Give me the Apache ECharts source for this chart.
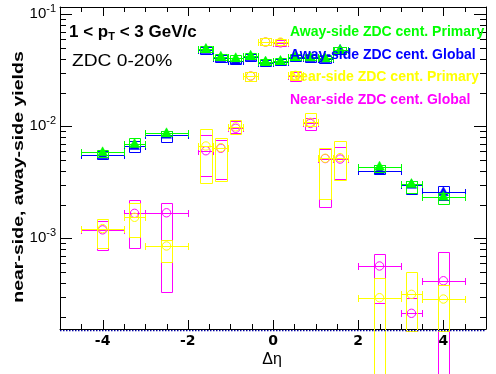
<!DOCTYPE html>
<html><head><meta charset="utf-8">
<script src="https://cdn.jsdelivr.net/npm/echarts@6/dist/echarts.min.js"></script>
<style>html,body{margin:0;padding:0;background:#fff}#c{width:496px;height:374px}</style>
</head><body><div id="c"></div>
<script>
// ---- data ----
const etaCenters    = [-4, -3.25, -2.5, -1.575, -1.225, -0.875, -0.525, -0.175, 0.175, 0.525, 0.875, 1.225, 1.575, 2.5, 3.25, 4];
const etaHalfWidths = [0.5, 0.25, 0.5, 0.175, 0.175, 0.175, 0.175, 0.175, 0.175, 0.175, 0.175, 0.175, 0.175, 0.5, 0.25, 0.5];

const awayPrimary   = [5.86e-3, 6.95e-3, 8.66e-3, 0.049, 0.0418, 0.0405, 0.0427, 0.0378, 0.0383, 0.0418, 0.0413, 0.0405, 0.048, 4.36e-3, 3.05e-3, 2.35e-3];
const awayPrimaryLo = [5.29e-3, 6.71e-3, 8.19e-3, 0.046, 0.0393, 0.0381, 0.0401, 0.0355, 0.036, 0.0393, 0.0388, 0.0381, 0.0451, 3.93e-3, 2.55e-3, 2.01e-3];
const awayPrimaryHi = [6.14e-3, 7.81e-3, 9.08e-3, 0.052, 0.0443, 0.0429, 0.0452, 0.0401, 0.0406, 0.0443, 0.0438, 0.0429, 0.0509, 4.51e-3, 3.25e-3, 2.52e-3];

const awayGlobal    = [5.51e-3, 6.67e-3, 8.41e-3, 0.048, 0.0405, 0.0386, 0.0413, 0.037, 0.0375, 0.0409, 0.0405, 0.0396, 0.048, 4.02e-3, 3.0e-3, 2.58e-3];
const awayGlobalLo  = [5.07e-3, 5.93e-3, 7.2e-3, 0.0446, 0.0377, 0.0359, 0.0384, 0.0344, 0.0349, 0.038, 0.0377, 0.0368, 0.0446, 3.73e-3, 2.47e-3, 2.2e-3];
const awayGlobalHi  = [6.05e-3, 7.44e-3, 9.14e-3, 0.0509, 0.0429, 0.0409, 0.0438, 0.0392, 0.0398, 0.0434, 0.0429, 0.042, 0.0509, 4.51e-3, 3.25e-3, 2.93e-3];

const nearPrimary   = [1.22e-3, 1.54e-3, 8.54e-4, 6.67e-3, 6.44e-3, 9.9e-3, 0.0281, 0.0565, 0.0565, 0.0285, 1.085e-2, 5.18e-3, 5.25e-3, 2.95e-4, 3.16e-4, 2.87e-4];
const nearPrimaryLo = [8.14e-4, 1.03e-3, 6.18e-4, 3.14e-3, 3.27e-3, 8.48e-3, 0.0253, 0.0532, 0.053, 0.026, 1.0e-2, 2.23e-3, 3.32e-3, 5e-5, 1.5e-4, 1.5e-4];
const nearPrimaryHi = [1.49e-3, 2.05e-3, 9.66e-4, 9.4e-3, 7.81e-3, 1.14e-2, 0.0307, 0.0612, 0.060, 0.031, 1.31e-2, 6.36e-3, 7.39e-3, 4.4e-4, 4.97e-4, 3.83e-4];

const nearGlobal    = [1.19e-3, 1.67e-3, 1.69e-3, 6.05e-3, 6.36e-3, 9.6e-3, 0.0281, 0.0565, 0.0555, 0.028, 1.06e-2, 5.15e-3, 5.1e-3, 5.66e-4, 2.14e-4, 4.18e-4];
const nearGlobalLo  = [7.81e-4, 8.14e-4, 3.3e-4, 3.6e-3, 3.36e-3, 8.66e-3, 0.0253, 0.0532, 0.0525, 0.0256, 9.27e-3, 1.89e-3, 3.36e-3, 2.63e-4, 1.5e-4, 5e-5];
const nearGlobalHi  = [1.43e-3, 2.2e-3, 2.05e-3, 8.36e-3, 7.54e-3, 1.12e-2, 0.0307, 0.0612, 0.059, 0.0305, 1.18e-2, 6.27e-3, 6.49e-3, 7.2e-4, 2.95e-4, 7.5e-4];

const xMin = -5, xMax = 5;
const yMin = 1.55e-4, yMax = 0.1161;
const baselineValue = 1.5e-4;
const xLabelTicks = [-4, -2, 0, 2, 4];
const xMajorTicks = [-4, -2, 0, 2, 4];
const xMinorTicks = [-4.5, -3.5, -3, -2.5, -1.5, -1, -0.5, 0.5, 1, 1.5, 2.5, 3, 3.5, 4.5];
const yMajorTicks = [1e-3, 1e-2, 1e-1];
const yMinorTicks = [2e-4, 3e-4, 4e-4, 5e-4, 6e-4, 7e-4, 8e-4, 9e-4,
                     2e-3, 3e-3, 4e-3, 5e-3, 6e-3, 7e-3, 8e-3, 9e-3,
                     2e-2, 3e-2, 4e-2, 5e-2, 6e-2, 7e-2, 8e-2, 9e-2];
const legendNames = ['Away-side ZDC cent. Primary', 'Away-side ZDC cent. Global', 'Near-side ZDC cent. Primary', 'Near-side ZDC cent. Global'];

// ---- styling ----
const GREEN = '#00ff00', BLUE = '#0000ff', YELLOW = '#ffff00', MAGENTA = '#ff00ff';
const boxHalf = 0.135;

function rows(vals, lo, hi) {
  return etaCenters.map((x, i) => [x, etaHalfWidths[i], vals[i], lo[i], hi[i]]);
}
const px = v => Math.round(v) + 0.5;

function pointSeries(name, data, color, marker, z) {
  return {
    type: 'custom', name: name, z: z, clip: false,
    data: data,
    encode: { x: 0, y: 2 },
    renderItem: function (params, api) {
      const x = api.value(0), xe = api.value(1), y = api.value(2), lo = api.value(3), hi = api.value(4);
      const pL = api.coord([x - xe, y]), pR = api.coord([x + xe, y]), pC = api.coord([x, y]);
      const bTL = api.coord([x - boxHalf, hi]), bBR = api.coord([x + boxHalf, lo]);
      const st = { stroke: color, lineWidth: 1, fill: 'none' };
      const ch = [];
      const bx = px(bTL[0]), by = px(bTL[1]);
      ch.push({ type: 'rect', shape: { x: bx, y: by, width: Math.round(bBR[0]) - Math.round(bTL[0]), height: Math.round(bBR[1]) - Math.round(bTL[1]) }, style: st });
      const yy = px(pC[1]);
      const xl = px(pL[0]), xr = px(pR[0]);
      ch.push({ type: 'line', shape: { x1: xl, y1: yy, x2: xr, y2: yy }, style: st });
      ch.push({ type: 'line', shape: { x1: xl, y1: yy - 3.5, x2: xl, y2: yy + 3.5 }, style: st });
      ch.push({ type: 'line', shape: { x1: xr, y1: yy - 3.5, x2: xr, y2: yy + 3.5 }, style: st });
      const cx = pC[0], cy = pC[1];
      if (marker === 'triangle') {
        ch.push({ type: 'polygon', shape: { points: [[cx, cy - 5.5], [cx - 5, cy + 3.5], [cx + 5, cy + 3.5]] }, style: { fill: color, stroke: color, lineWidth: 0.5 } });
      } else {
        ch.push({ type: 'circle', shape: { cx: cx, cy: cy, r: 4.2 }, style: { fill: 'none', stroke: color, lineWidth: 1 } });
      }
      return { type: 'group', children: ch };
    }
  };
}

function xTickSeries() {
  const data = xMajorTicks.map(v => [v, yMin, 9]).concat(xMinorTicks.map(v => [v, yMin, 5]));
  return {
    type: 'custom', z: 5, clip: false, silent: true, data: data, encode: { x: 0, y: 1 },
    renderItem: function (params, api) {
      const x = api.value(0), len = api.value(2);
      const b = api.coord([x, yMin]), t = api.coord([x, yMax]);
      const xx = px(b[0]);
      return { type: 'group', children: [
        { type: 'line', shape: { x1: xx, y1: b[1], x2: xx, y2: b[1] - len }, style: { stroke: '#000', lineWidth: 1 } },
        { type: 'line', shape: { x1: xx, y1: t[1], x2: xx, y2: t[1] + len }, style: { stroke: '#000', lineWidth: 1 } }
      ] };
    }
  };
}
function yTickSeries() {
  const data = yMajorTicks.map(v => [xMin, v, 12]).concat(yMinorTicks.map(v => [xMin, v, 6]));
  return {
    type: 'custom', z: 5, clip: false, silent: true, data: data, encode: { x: 0, y: 1 },
    renderItem: function (params, api) {
      const y = api.value(1), len = api.value(2);
      const l = api.coord([xMin, y]), r = api.coord([xMax, y]);
      const yy = px(l[1]);
      return { type: 'group', children: [
        { type: 'line', shape: { x1: l[0], y1: yy, x2: l[0] + len, y2: yy }, style: { stroke: '#000', lineWidth: 1 } },
        { type: 'line', shape: { x1: r[0], y1: yy, x2: r[0] - len, y2: yy }, style: { stroke: '#000', lineWidth: 1 } }
      ] };
    }
  };
}

const chart = echarts.init(document.getElementById('c'), null, { renderer: 'canvas' });
const axisLineStyle = { show: true, onZero: false, lineStyle: { color: '#000', width: 1 } };
chart.setOption({
  animation: false,
  backgroundColor: '#fff',
  grid: { left: 60, top: 7, width: 426, height: 322, containLabel: false, outerBoundsMode: 'none' },
  xAxis: [
    { type: 'value', position: 'bottom', min: xMin, max: xMax, interval: 1,
      axisLine: axisLineStyle, axisTick: { show: false }, splitLine: { show: false },
      axisLabel: { margin: 5, color: '#000', fontFamily: 'DejaVu Sans', fontWeight: 'bold', fontSize: 14,
        formatter: v => (xLabelTicks.indexOf(v) >= 0 ? String(v) : '') } },
    { type: 'value', position: 'top', min: xMin, max: xMax, interval: 1,
      axisLine: axisLineStyle, axisTick: { show: false }, splitLine: { show: false }, axisLabel: { show: false } }
  ],
  yAxis: [
    { type: 'log', logBase: 10, position: 'left', min: yMin, max: yMax,
      axisLine: axisLineStyle, axisTick: { show: false }, splitLine: { show: false },
      axisLabel: { margin: 4, color: '#000', showMinLabel: false, showMaxLabel: false,
        formatter: function (v) {
          const e = Math.log10(v);
          if (Math.abs(e - Math.round(e)) > 1e-6) return '';
          return '{b|10}{s|' + Math.round(e) + '}';
        },
        rich: { b: { fontFamily: 'Liberation Sans', fontSize: 15, color: '#000' },
                s: { fontFamily: 'Liberation Sans', fontSize: 11, color: '#000', padding: [0, 0, 10, 0] } } } },
    { type: 'log', logBase: 10, position: 'right', min: yMin, max: yMax,
      axisLine: axisLineStyle, axisTick: { show: false }, splitLine: { show: false }, axisLabel: { show: false } }
  ],
  series: [
    { type: 'line', data: [[xMin, baselineValue], [xMax, baselineValue]], symbol: 'none', clip: false, z: 6,
      lineStyle: { color: '#0000a0', width: 1.3, type: [1.5, 1.5] }, silent: true },
    pointSeries(legendNames[1], rows(awayGlobal, awayGlobalLo, awayGlobalHi), BLUE, 'triangle', 2),
    pointSeries(legendNames[0], rows(awayPrimary, awayPrimaryLo, awayPrimaryHi), GREEN, 'triangle', 3),
    pointSeries(legendNames[3], rows(nearGlobal, nearGlobalLo, nearGlobalHi), MAGENTA, 'circle', 2),
    pointSeries(legendNames[2], rows(nearPrimary, nearPrimaryLo, nearPrimaryHi), YELLOW, 'circle', 3),
    xTickSeries(),
    yTickSeries()
  ],
  graphic: [
    { type: 'text', left: 69, top: 24, z: 10,
      style: { text: '1 < p{sub|T} < 3 GeV/c', font: 'bold 17px "Liberation Sans"', fill: '#000',
        rich: { sub: { font: 'bold 11px "Liberation Sans"', fill: '#000', padding: [9, 0, 0, 0] } } } },
    { type: 'text', x: 72, y: 62, z: 10, scaleX: 1.2,
      style: { text: 'ZDC 0-20%', font: '16px "Liberation Sans"', fill: '#000', verticalAlign: 'middle' } },
    { type: 'text', x: 290, y: 32, z: 10, style: { text: legendNames[0], font: 'bold 14px "Liberation Sans"', fill: GREEN, verticalAlign: 'middle' } },
    { type: 'text', x: 290, y: 55, z: 10, style: { text: legendNames[1], font: 'bold 14px "Liberation Sans"', fill: BLUE, verticalAlign: 'middle' } },
    { type: 'text', x: 290, y: 77, z: 10, style: { text: legendNames[2], font: 'bold 14px "Liberation Sans"', fill: YELLOW, verticalAlign: 'middle' } },
    { type: 'text', x: 290, y: 100, z: 10, style: { text: legendNames[3], font: 'bold 14px "Liberation Sans"', fill: MAGENTA, verticalAlign: 'middle' } },
    { type: 'text', x: 272, y: 360, z: 10,
      style: { text: 'Δη', font: '16px "Liberation Sans"', fill: '#000', align: 'center', verticalAlign: 'middle' } },
    { type: 'text', x: 19, y: 177, rotation: Math.PI / 2, z: 10, scaleX: 1.3,
      style: { text: 'near-side, away-side yields', font: 'bold 15px "Liberation Sans"', fill: '#000', align: 'center', verticalAlign: 'middle' } }
  ]
});
</script></body></html>
